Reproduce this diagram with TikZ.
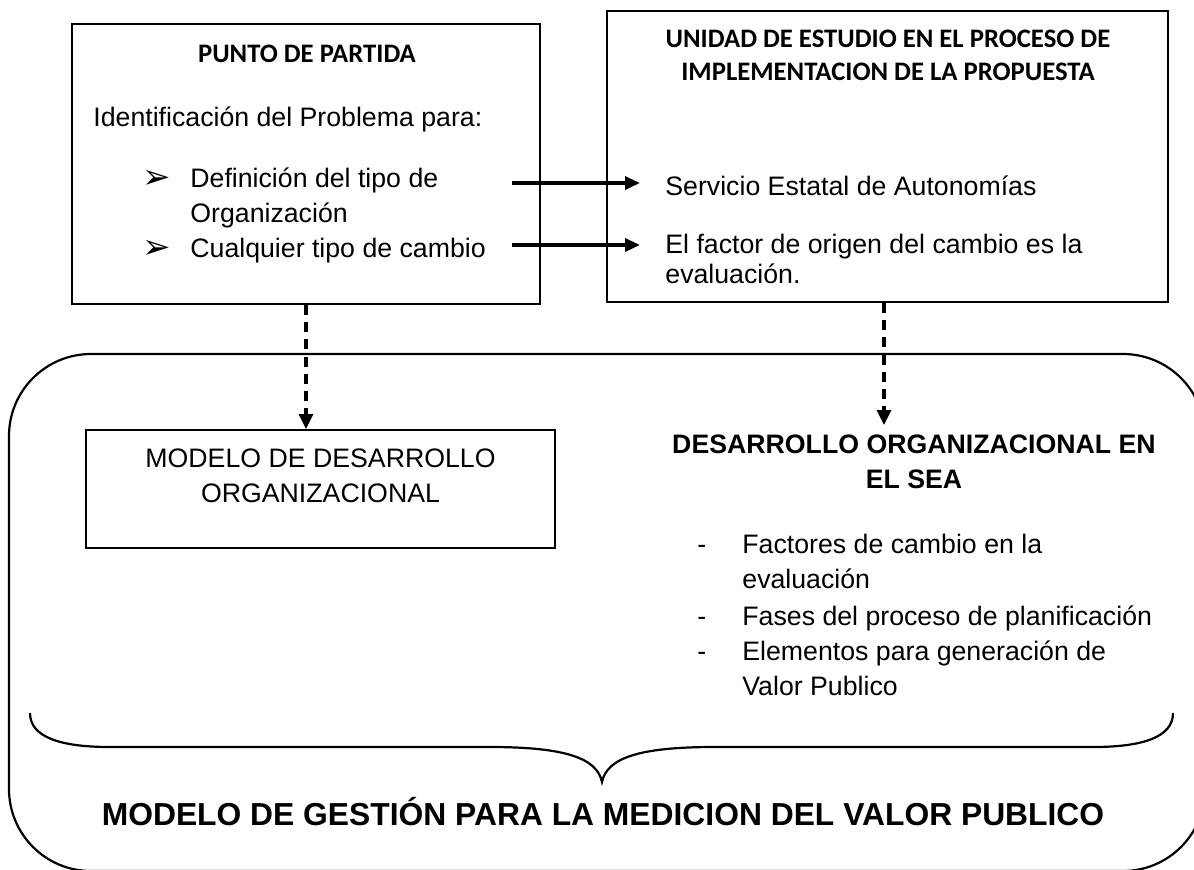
\documentclass[tikz,border=0pt]{standalone}
\usepackage{fontspec}
\setmainfont{Liberation Sans}
\newfontfamily\calib{Carlito}
\newfontfamily\djv{DejaVu Sans}
\usetikzlibrary{arrows.meta}
\tikzset{
  boxstyle/.style={draw, line width=1pt, inner sep=0pt},
  txt/.style={inner sep=0pt, anchor=base west, font=\fontsize{13.35}{16}\selectfont},
  txtc/.style={inner sep=0pt, anchor=base, font=\fontsize{13.35}{16}\selectfont},
  hdc/.style={inner sep=0pt, anchor=base, font=\calib\bfseries\fontsize{13.35}{16}\selectfont},
  bdc/.style={inner sep=0pt, anchor=base, font=\bfseries\fontsize{13.35}{16}\selectfont},
  bulletmark/.style={inner sep=0pt, anchor=base west, font=\djv\fontsize{17}{19}\selectfont},
  solidarrow/.style={line width=1.6pt, -{Triangle[length=7.5pt,width=6.5pt]}},
  dasharrow/.style={line width=1.6pt, dash pattern=on 5pt off 3.6pt, -{Triangle[length=7.5pt,width=7pt]}},
}
\begin{document}
\begin{tikzpicture}[x=0.5pt,y=-0.5pt]
\useasboundingbox (0,0) rectangle (1194,869);
\fill[white] (0,0) rectangle (1194,869);

% outer rounded region
\draw[line width=1.1pt, rounded corners=41pt] (9,354) rectangle (1205,871);

% top boxes
\node[boxstyle, minimum width=234pt, minimum height=140pt] (box1) at (306,164) {};
\node[boxstyle, minimum width=280.5pt, minimum height=145.5pt] (box2) at (887.5,156.5) {};
% lower left box
\node[boxstyle, minimum width=234.5pt, minimum height=59pt] (lbox) at (320.5,489) {};

% box 1 texts
\node[hdc] (t1) at (307,62) {PUNTO DE PARTIDA};
\node[txt] (t2) at (93,126) {Identificación del Problema para:};
\node[bulletmark] (b1) at (142,188) {➢};
\node[bulletmark] (b2) at (142,258) {➢};
\node[txt] (t3) at (190,187) {Definición del tipo de};
\node[txt] (t4) at (190,222) {Organización};
\node[txt] (t5) at (190,257) {Cualquier tipo de cambio};

% box 2 texts
\node[hdc] (u1) at (888,47) {UNIDAD DE ESTUDIO EN EL PROCESO DE};
\node[hdc] (u2) at (888,80) {IMPLEMENTACION DE LA PROPUESTA};
\node[txt] (u3) at (665,195) {Servicio Estatal de Autonomías};
\node[txt] (u4) at (665,253) {El factor de origen del cambio es la};
\node[txt] (u5) at (665,283) {evaluación.};

% arrows between boxes
\coordinate (s1) at (512,183);
\coordinate (e1) at (640,183);
\coordinate (s2) at (512,245);
\coordinate (e2) at (640,245);
\draw[solidarrow] (s1) -- (e1);
\draw[solidarrow] (s2) -- (e2);

% lower left box text
\node[txtc] (m1) at (320.5,467) {MODELO DE DESARROLLO};
\node[txtc] (m2) at (320.5,502) {ORGANIZACIONAL};

% right block
\node[bdc] (d1) at (914,453) {DESARROLLO ORGANIZACIONAL EN};
\node[bdc] (d2) at (914,488) {EL SEA};
\coordinate (dtip) at (884,425);
\node[txt] (h1) at (697,553) {-};
\node[txt] (h2) at (697,625) {-};
\node[txt] (h3) at (697,660) {-};
\node[txt] (l1) at (742,553) {Factores de cambio en la};
\node[txt] (l2) at (742,588) {evaluación};
\node[txt] (l3) at (742,625) {Fases del proceso de planificación};
\node[txt] (l4) at (742,660) {Elementos para generación de};
\node[txt] (l5) at (742,695) {Valor Publico};

% dashed arrows
\draw[dasharrow] (box1.south) -- (box1.south |- lbox.north);
\draw[dasharrow] (box2.south -| dtip) -- (dtip);

% brace
\draw[line width=1.1pt] (30,713) .. controls (30,737) and (60,747) .. (110,747)
  -- (490,747) .. controls (565,747) and (597,758) .. (602,782)
  .. controls (607,758) and (639,747) .. (714,747)
  -- (1093,747) .. controls (1143,747) and (1173,737) .. (1173,713);

% bottom title
\node[inner sep=0pt, anchor=base, font=\bfseries\fontsize{15.9}{19}\selectfont] (title) at (603,825) {MODELO DE GESTIÓN PARA LA MEDICION DEL VALOR PUBLICO};
\end{tikzpicture}
\end{document}
